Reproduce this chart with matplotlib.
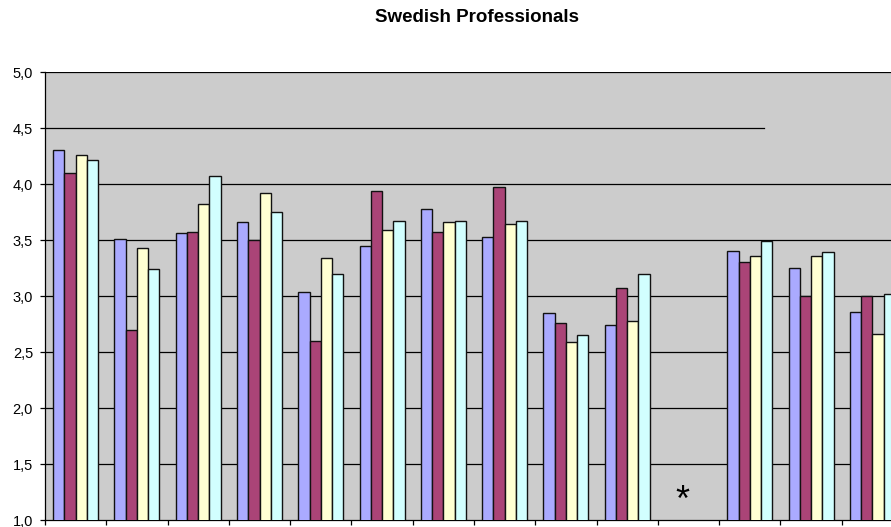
import numpy as np
import matplotlib.pyplot as plt

# Mean scores for each question, four respondent groups (NaN = not asked)
n_groups = 14
serie_a = [4.30, 3.51, 3.56, 3.66, 3.04, 3.45, 3.78, 3.53, 2.85, 2.74, np.nan, 3.40, 3.25, 2.86]
serie_b = [4.10, 2.70, 3.57, 3.50, 2.60, 3.94, 3.57, 3.97, 2.76, 3.07, np.nan, 3.30, 3.00, 3.00]
serie_c = [4.26, 3.43, 3.82, 3.92, 3.34, 3.59, 3.66, 3.64, 2.59, 2.78, np.nan, 3.36, 3.36, 2.66]
serie_d = [4.21, 3.24, 4.07, 3.75, 3.20, 3.67, 3.67, 3.67, 2.65, 3.20, np.nan, 3.49, 3.39, 3.02]

colores = ['#AAAAFF', '#AA4477', '#FFFFD2', '#D2FFFF']
y_ticks = [1.0, 1.5, 2.0, 2.5, 3.0, 3.5, 4.0, 4.5, 5.0]

plt.rcParams['font.family'] = ['Liberation Sans', 'DejaVu Sans']

fig = plt.figure(figsize=(8.91, 5.27), dpi=100)
ax = fig.add_axes([45 / 891, 7 / 527, 858 / 891, 448 / 527])
ax.set_facecolor('#CCCCCC')

x = np.arange(n_groups)
ancho = 0.184
series = [serie_a, serie_b, serie_c, serie_d]
for i, (vals, col) in enumerate(zip(series, colores)):
    ax.bar(x + (i - 1.5) * ancho, vals, width=ancho, color=col,
           edgecolor='#111111', linewidth=1.0, zorder=3)

# Líneas de la cuadrícula (la de 4,5 queda corta)
for yv in y_ticks[1:]:
    xmax = 0.838 if yv == 4.5 else 1.0
    ax.axhline(yv, xmin=0, xmax=xmax, color='black', linewidth=0.9, zorder=1)

ax.set_xlim(-0.5, n_groups - 0.5)
ax.set_ylim(1.0, 5.0)
ax.set_yticks(y_ticks)
ax.set_yticklabels([f'{v:.1f}'.replace('.', ',') for v in y_ticks], fontsize=10.5)
ax.set_xticks(np.arange(n_groups + 1) - 0.5)
ax.set_xticklabels([])
ax.tick_params(axis='both', direction='out', length=3.6, width=0.9, color='black')
ax.tick_params(axis='y', pad=5)

for lado in ['top', 'right']:
    ax.spines[lado].set_visible(False)
for lado in ['left', 'bottom']:
    ax.spines[lado].set_color('black')
    ax.spines[lado].set_linewidth(0.9)

# Pregunta sin datos
ax.text(9.9, 1.165, '*', fontsize=26, ha='center', va='center', zorder=4)

fig.text(477 / 891, 1 - 17 / 527, 'Swedish Professionals', fontsize=13.5,
         fontweight='bold', ha='center', va='center')

fig.savefig('out.png', dpi=100)
